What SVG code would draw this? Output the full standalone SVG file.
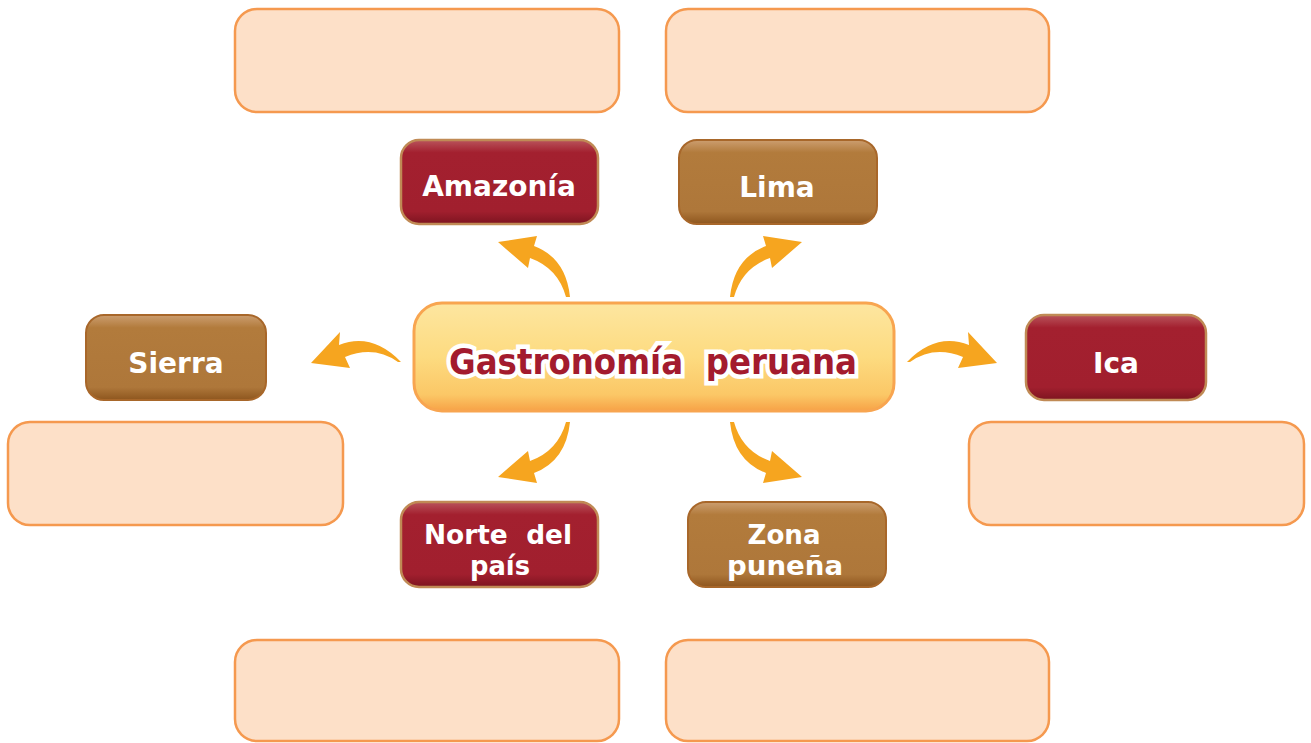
<svg xmlns="http://www.w3.org/2000/svg" width="1311" height="743" viewBox="0 0 1311 743">
<style>
.empty{fill:#fde0c8;stroke:#f5994f;stroke-width:2.5}
.red{fill:url(#gRed);stroke:#c08a55;stroke-width:2.5}
.brown{fill:url(#gBrown);stroke:#a8672a;stroke-width:2}
.lbl{font-family:"DejaVu Sans",sans-serif;font-weight:bold;font-size:28px;fill:#ffffff;text-anchor:middle}
.lbl2{font-family:"DejaVu Sans",sans-serif;font-weight:bold;font-size:26px;fill:#ffffff;text-anchor:middle}
.arrow{fill:#f6a51f}
.title{font-family:"DejaVu Sans",sans-serif;font-weight:bold;font-size:36px;fill:#a31b2e;text-anchor:middle;stroke:#ffffff;stroke-width:9;stroke-linejoin:miter;paint-order:stroke}
</style>
<defs>
<linearGradient id="gRed" x1="0" y1="0" x2="0" y2="1">
<stop offset="0" stop-color="#b9545c"/>
<stop offset="0.15" stop-color="#a3202f"/>
<stop offset="0.85" stop-color="#a11f2e"/>
<stop offset="1" stop-color="#7d1420"/>
</linearGradient>
<linearGradient id="gBrown" x1="0" y1="0" x2="0" y2="1">
<stop offset="0" stop-color="#cc9e70"/>
<stop offset="0.15" stop-color="#b27b3c"/>
<stop offset="0.85" stop-color="#ae773a"/>
<stop offset="1" stop-color="#8e561e"/>
</linearGradient>
<linearGradient id="gCenter" x1="0" y1="0" x2="0" y2="1">
<stop offset="0" stop-color="#fde6a0"/>
<stop offset="0.5" stop-color="#fddb80"/>
<stop offset="0.85" stop-color="#fbc766"/>
<stop offset="1" stop-color="#f7a246"/>
</linearGradient>
<path id="arr" d="M570,297 Q566,258 534,246 L537,236 L498,242 L528,268 L530,258 Q558,268 566,297 Z"/>
<path id="arrS" d="M401,362 Q372,332 339,345 L340,332 L311,363 L350,368 L345,357 Q374,345 398,362 Z"/>
</defs>

<g id="empty-boxes">
<rect id="box-top-left" class="empty" x="235" y="9" width="384" height="103" rx="22"/>
<rect id="box-top-right" class="empty" x="666" y="9" width="383" height="103" rx="22"/>
<rect id="box-left" class="empty" x="8" y="422" width="335" height="103" rx="22"/>
<rect id="box-right" class="empty" x="969" y="422" width="335" height="103" rx="22"/>
<rect id="box-bottom-left" class="empty" x="235" y="640" width="384" height="101" rx="22"/>
<rect id="box-bottom-right" class="empty" x="666" y="640" width="383" height="101" rx="22"/>
</g>

<g id="connectors">
<use href="#arr" class="arrow"/>
<use href="#arr" class="arrow" transform="translate(1300,0) scale(-1,1)"/>
<use href="#arr" class="arrow" transform="translate(0,719) scale(1,-1)"/>
<use href="#arr" class="arrow" transform="translate(1300,719) scale(-1,-1)"/>
<use href="#arrS" class="arrow"/>
<use href="#arrS" class="arrow" transform="translate(1308,0) scale(-1,1)"/>
</g>

<g id="center">
<rect x="414" y="303" width="480" height="108" rx="28" fill="url(#gCenter)" stroke="#f8a550" stroke-width="3"/>
<text class="title" x="653" y="374" textLength="408" lengthAdjust="spacingAndGlyphs" xml:space="preserve">Gastronomía  peruana</text>
</g>

<g id="node-amazonia">
<rect class="red" x="401" y="140" width="197" height="84" rx="18"/>
<text class="lbl" x="499" y="196">Amazonía</text>
</g>
<g id="node-lima">
<rect class="brown" x="679" y="140" width="198" height="84" rx="18"/>
<text class="lbl" x="777" y="197">Lima</text>
</g>
<g id="node-sierra">
<rect class="brown" x="86" y="315" width="180" height="85" rx="18"/>
<text class="lbl" x="176" y="373">Sierra</text>
</g>
<g id="node-ica">
<rect class="red" x="1026" y="315" width="180" height="85" rx="18"/>
<text class="lbl" x="1116" y="373">Ica</text>
</g>
<g id="node-norte">
<rect class="red" x="401" y="502" width="197" height="85" rx="18"/>
<text class="lbl2" x="498" y="544" textLength="148" lengthAdjust="spacingAndGlyphs" xml:space="preserve">Norte  del</text>
<text class="lbl2" x="500" y="575" textLength="60" lengthAdjust="spacingAndGlyphs">país</text>
</g>
<g id="node-zona">
<rect class="brown" x="688" y="502" width="198" height="85" rx="18"/>
<text class="lbl2" x="784" y="544" textLength="73" lengthAdjust="spacingAndGlyphs">Zona</text>
<text class="lbl2" x="785" y="575" textLength="116" lengthAdjust="spacingAndGlyphs">puneña</text>
</g>
</svg>
